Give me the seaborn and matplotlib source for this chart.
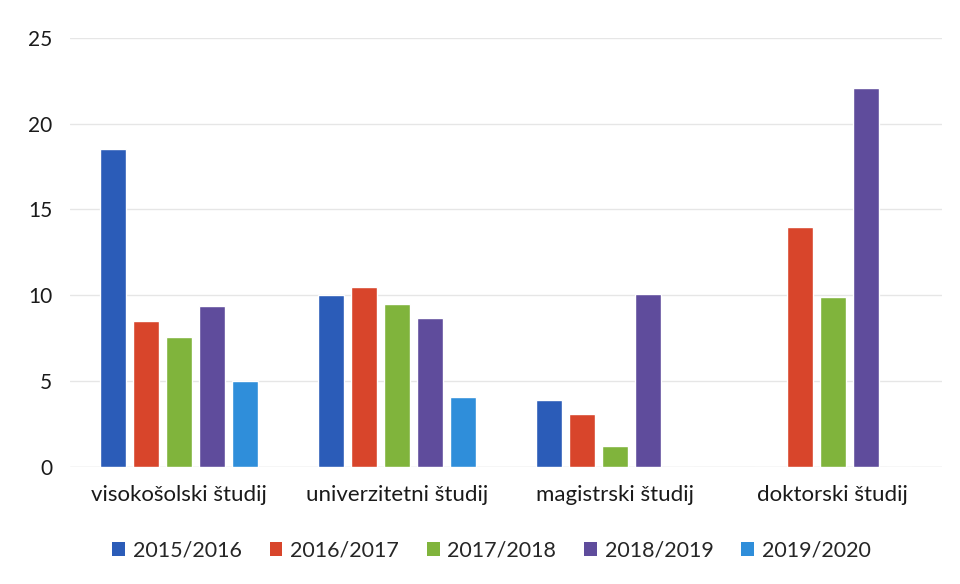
import matplotlib
matplotlib.use("Agg")
import matplotlib.pyplot as plt
import seaborn as sns
import pandas as pd
from matplotlib.patches import Patch

categories = ["visokošolski študij", "univerzitetni študij", "magistrski študij", "doktorski študij"]
years = ["2015/2016", "2016/2017", "2017/2018", "2018/2019", "2019/2020"]
v_2015 = [18.5, 10.0, 3.9, 0.0]
v_2016 = [8.5, 10.5, 3.1, 14.0]
v_2017 = [7.6, 9.5, 1.2, 9.9]
v_2018 = [9.4, 8.7, 10.1, 22.1]
v_2019 = [5.0, 4.1, 0.0, 0.0]
colors = ["#2B5CB8", "#D8452B", "#80B43C", "#5F4C9C", "#2F8EDA"]

series = [v_2015, v_2016, v_2017, v_2018, v_2019]
rows = []
for y, vals in zip(years, series):
    for c, v in zip(categories, vals):
        rows.append({"cat": c, "year": y, "value": v})
df = pd.DataFrame(rows)

sns.set_theme(style="white")
plt.rcParams["font.family"] = ["Lato", "DejaVu Sans"]

fig = plt.figure(figsize=(9.6, 5.84), dpi=100)
ax = fig.add_axes([0.073, 0.2003, 0.908, 0.735])
sns.barplot(data=df, x="cat", y="value", hue="year", hue_order=years,
            order=categories, palette=colors, width=0.757, gap=0.21,
            saturation=1, ax=ax, legend=False, errorbar=None)

ax.set_ylim(0, 25)
ax.set_yticks([0, 5, 10, 15, 20, 25])
ax.set_xlim(-0.5, 3.5)
ax.yaxis.grid(True, color="#e6e6e6", linewidth=1)
ax.set_axisbelow(True)
for s in ax.spines.values():
    s.set_visible(False)
ax.axhline(0, color="#e6e6e6", linewidth=1, zorder=0)
ax.set_xlabel("")
ax.set_ylabel("")
ax.tick_params(axis="y", labelsize=15, pad=13, length=0, colors="#1a1a1a")
ax.tick_params(axis="x", labelsize=16, pad=13, length=0, colors="#1a1a1a")

handles = [Patch(facecolor=c, edgecolor="none") for c in colors]
fig.legend(handles, years, loc="center", bbox_to_anchor=(0.512, 0.057), ncol=5,
           frameon=False, fontsize=15.5, handlelength=0.6, handleheight=0.6,
           handletextpad=0.35, columnspacing=1.3)

fig.savefig("out.png", dpi=100)
